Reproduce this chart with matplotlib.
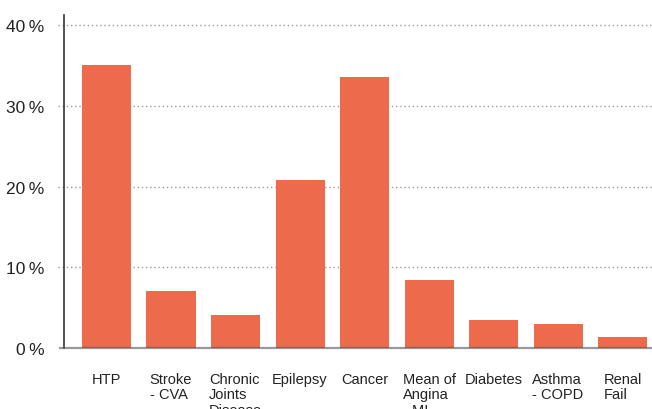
import numpy as np
import matplotlib.pyplot as plt

cats = ["HTP", "Stroke\n- CVA", "Chronic\nJoints\nDisease", "Epilepsy", "Cancer",
        "Mean of\nAngina\n- MI", "Diabetes", "Asthma\n- COPD", "Renal\nFail"]
vals = [35.1, 7.1, 4.1, 20.8, 33.6, 8.4, 3.5, 3.0, 1.4]
yticks = [0, 10, 20, 30, 40]

plt.rcParams['font.family'] = ['Liberation Sans', 'DejaVu Sans']

fig = plt.figure(figsize=(6.52, 4.10), dpi=100)
ax = fig.add_axes([64/652, 61/410, 1 - 64/652, (349-16)/410])

x = np.arange(len(cats))
ax.bar(x, vals, width=0.76, color="#ee6a4c", zorder=2)

ax.set_xlim(-0.659, 8.457)
ax.set_ylim(0, 41.3)

# dotted grid lines, sticking out a little left of the axis
for t in yticks[1:]:
    ax.axhline(t, xmin=-6/588, xmax=1, color="#999999", ls=(0, (1, 2)), lw=1,
               clip_on=False, zorder=1)
ax.axhline(0, xmin=-4/588, xmax=1, color="#555555", alpha=0.6, lw=1.6,
           clip_on=False, zorder=3)

for s in ["top", "right", "bottom"]:
    ax.spines[s].set_visible(False)
ax.spines["left"].set_color("#333333")
ax.spines["left"].set_linewidth(1.2)

ax.set_yticks(yticks)
ax.set_yticklabels([f"{t}\u2009%" for t in yticks], fontsize=12.5, color="#222222")
ax.set_xticks(x)
ax.set_xticklabels(cats, fontsize=10.5, color="#222222", linespacing=1.15,
                   ha="center", multialignment="left", va="top")
ax.tick_params(axis="y", length=0, pad=14)
ax.tick_params(axis="x", length=0, pad=17)

fig.savefig("out.png", dpi=100)
